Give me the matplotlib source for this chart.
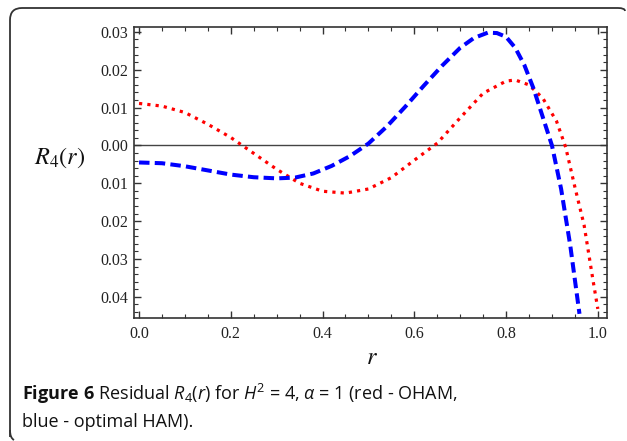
import numpy as np
import matplotlib
matplotlib.use("Agg")
import matplotlib.pyplot as plt
from matplotlib.path import Path
from matplotlib.patches import PathPatch
from matplotlib.ticker import MultipleLocator, FixedLocator

plt.rcParams['mathtext.fontset'] = 'custom'
plt.rcParams['mathtext.rm'] = 'Open Sans'
plt.rcParams['mathtext.it'] = 'Open Sans:italic'
plt.rcParams['mathtext.bf'] = 'Open Sans:bold'

# ---- data ----
r_blue = [0.0, 0.05, 0.1, 0.15, 0.2, 0.25, 0.3, 0.34, 0.38, 0.42, 0.46, 0.5, 0.54,
          0.58, 0.62, 0.66, 0.7, 0.73, 0.76, 0.78, 0.8, 0.82, 0.84, 0.86, 0.88,
          0.9, 0.92, 0.94, 0.96]
R_blue = [-0.0045, -0.0047, -0.0055, -0.0066, -0.0077, -0.0084, -0.0087, -0.0085,
          -0.0074, -0.0054, -0.0028, 0.0005, 0.0050, 0.0102, 0.0157, 0.0210, 0.0258,
          0.0284, 0.0298, 0.0297, 0.0287, 0.0258, 0.0212, 0.0150, 0.0075, 0.0000,
          -0.0115, -0.0265, -0.0445]

r_red = [0.0, 0.05, 0.1, 0.15, 0.2, 0.25, 0.3, 0.35, 0.4, 0.45, 0.5, 0.55, 0.6,
         0.65, 0.7, 0.75, 0.8, 0.82, 0.85, 0.88, 0.91, 0.93, 0.95, 0.97, 0.99, 1.0]
R_red = [0.0111, 0.0104, 0.0087, 0.0056, 0.0021, -0.0021, -0.0063, -0.0100, -0.0121,
         -0.0126, -0.0115, -0.0085, -0.0039, 0.0006, 0.0073, 0.0138, 0.0170, 0.0173,
         0.0160, 0.0125, 0.0064, -0.0005, -0.0110, -0.0210, -0.0360, -0.0432]

y_ticks = [0.03, 0.02, 0.01, 0.0, -0.01, -0.02, -0.03, -0.04]
y_tick_labels = ["0.03", "0.02", "0.01", "0.00", "0.01", "0.02", "0.03", "0.04"]
x_ticks = [0.0, 0.2, 0.4, 0.6, 0.8, 1.0]
x_tick_labels = ["0.0", "0.2", "0.4", "0.6", "0.8", "1.0"]

fig = plt.figure(figsize=(6.27, 4.41), dpi=100)

# rounded frame (top and left edges)
W, H = 627.0, 441.0
def fx(px): return px / W
def fy(py): return 1 - py / H
rad = 12
verts = [(fx(10), fy(437)), (fx(10), fy(8 + rad)), (fx(10), fy(8)), (fx(10 + rad), fy(8)),
         (fx(618), fy(8)), (fx(625), fy(8)), (fx(625), fy(11))]
codes = [Path.MOVETO, Path.LINETO, Path.CURVE3, Path.CURVE3, Path.LINETO, Path.CURVE3, Path.CURVE3]
fig.patches.append(PathPatch(Path(verts, codes), transform=fig.transFigure,
                             fill=False, edgecolor='#333333', lw=1.3))
# bottom-left corner
verts2 = [(fx(10), fy(430)), (fx(10), fy(438)), (fx(14), fy(440))]
fig.patches.append(PathPatch(Path(verts2, [Path.MOVETO, Path.CURVE3, Path.CURVE3]),
                             transform=fig.transFigure, fill=False, edgecolor='#333333', lw=1.3))

ax = fig.add_axes([134 / W, 1 - 318 / H, (607 - 134) / W, (318 - 27) / H])
ax.axhline(0, color='#444444', lw=1.0, zorder=1)
ax.plot(r_red, R_red, color=(1, 0, 0), lw=2.3, linestyle=(0, (1.0, 1.6)), zorder=2)
ax.plot(r_blue, R_blue, color=(0, 0, 1), lw=2.9, linestyle=(0, (2.6, 1.3)), zorder=3)

ax.set_xlim(-0.011, 1.02)
ax.set_ylim(-0.0456, 0.0313)

ax.yaxis.set_major_locator(FixedLocator(y_ticks))
ax.set_yticklabels(y_tick_labels)
ax.xaxis.set_major_locator(FixedLocator(x_ticks))
ax.set_xticklabels(x_tick_labels)
ax.xaxis.set_minor_locator(MultipleLocator(0.05))
ax.yaxis.set_minor_locator(MultipleLocator(0.002))

ax.tick_params(which='both', direction='in', top=True, right=True, color='#333333')
ax.tick_params(which='major', length=5, width=1.0)
ax.tick_params(which='minor', length=3, width=0.8)
for lab in ax.get_xticklabels() + ax.get_yticklabels():
    lab.set_fontfamily('Liberation Serif')
    lab.set_fontsize(11.5)
    lab.set_color('#222222')
ax.tick_params(axis='x', pad=6)
ax.tick_params(axis='y', pad=4)
for s in ax.spines.values():
    s.set_color('#333333')
    s.set_linewidth(1.2)

fig.text(60 / W, 1 - 158 / H, r'$R_4(r)$', fontsize=17.5, math_fontfamily='stix',
         ha='center', va='center', color='#111111')
fig.text(372 / W, 1 - 357 / H, r'$r$', fontsize=17.5, math_fontfamily='stix',
         ha='center', va='center', color='#111111')

cap1 = (r'$\mathbf{Figure\ 6}$ Residual $\mathit{R}_{\mathrm{4}}(\mathit{r})$ for '
        r'$\mathit{H}^{\mathrm{2}}$ = 4, $\mathit{\alpha}$ = 1 (red - OHAM,')
fig.text(22 / W, 1 - 400 / H, cap1, fontsize=13, fontfamily='Open Sans',
         ha='left', va='baseline', color='#111111')
fig.text(22 / W, 1 - 427 / H, 'blue - optimal HAM).', fontsize=13, fontfamily='Open Sans',
         ha='left', va='baseline', color='#111111')

fig.savefig('out.png', dpi=100)
